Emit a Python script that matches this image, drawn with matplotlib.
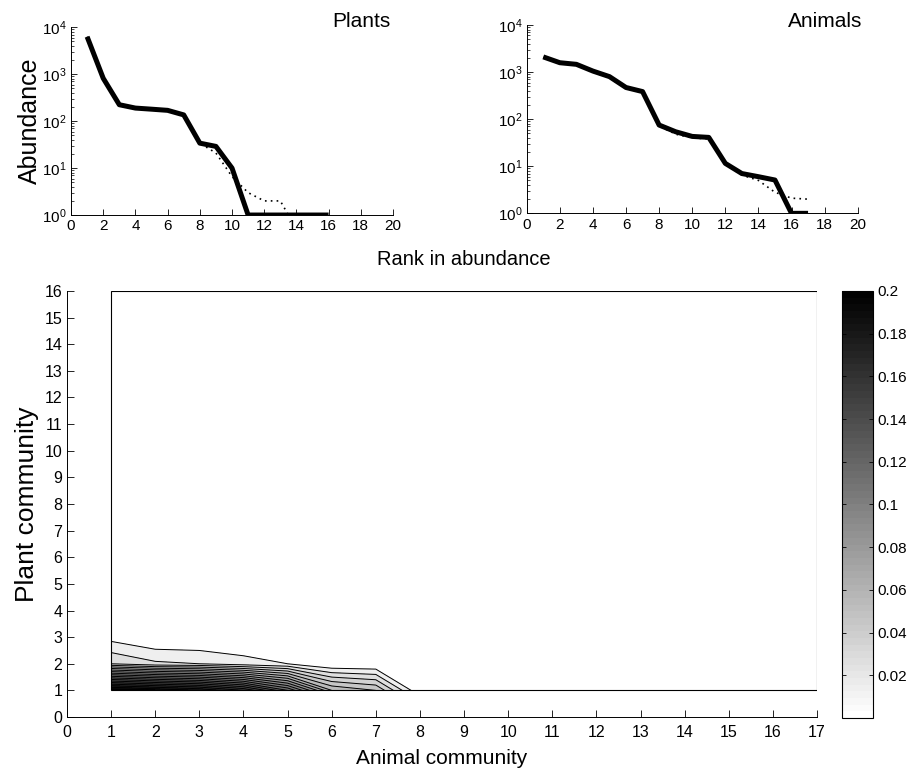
import numpy as np
import matplotlib
matplotlib.use("Agg")
import matplotlib.pyplot as plt
from matplotlib.patches import Rectangle
from matplotlib.colors import Normalize
from matplotlib.ticker import LogLocator, NullFormatter

plt.rcParams['font.family'] = ['Liberation Sans', 'DejaVu Sans']
plt.rcParams['mathtext.fontset'] = 'custom'
plt.rcParams['mathtext.rm'] = 'Liberation Sans'
plt.rcParams['mathtext.default'] = 'regular'

# rank-abundance data
plant_rank = list(range(1, 17))
plant_abund = [6300, 820, 224, 190, 180, 170, 136, 34, 29, 10, 1, 1, 1, 1, 1, 1]
plant_fit_rank = list(range(1, 15))
plant_fit = [6300, 820, 224, 190, 180, 170, 136, 34, 21, 6.6, 3, 2, 2, 0.5]

animal_rank = list(range(1, 18))
animal_abund = [2100, 1580, 1460, 1050, 800, 470, 385, 75, 54, 43, 41, 11.5, 7, 6, 5.1, 1, 1]
animal_fit_rank = list(range(1, 18))
animal_fit = [2050, 1550, 1420, 1000, 760, 440, 370, 72, 48, 40, 38, 11, 6.5, 5, 2.8, 2.1, 2.0]

# joint probability surface: rows = plant community 1..16, cols = animal community 1..17
animal_comm = np.arange(1, 18)
plant_comm = np.arange(1, 17)
row_plant1 = [0.2, 0.19, 0.18, 0.16, 0.12, 0.06, 0.05, 0, 0, 0, 0, 0, 0, 0, 0, 0, 0]
row_plant2 = [0.03, 0.022, 0.02, 0.0143, 0.01, 0, 0, 0, 0, 0, 0, 0, 0, 0, 0, 0, 0]
row_plant3 = [0.0062, 0, 0, 0, 0, 0, 0, 0, 0, 0, 0, 0, 0, 0, 0, 0, 0]
levels = np.arange(0.01, 0.2001, 0.01)
cbar_ticks = [0.02, 0.04, 0.06, 0.08, 0.1, 0.12, 0.14, 0.16, 0.18, 0.2]

fig = plt.figure(figsize=(9.14, 7.71), dpi=100)

def rank_panel(rect, rank, abund, fit_rank, fit, name, xmax_txt):
    ax = fig.add_axes(rect)
    ax.plot(fit_rank, fit, color='k', lw=1.2, ls=(0, (1, 2.5)))   # model fit, dotted
    ax.plot(rank, abund, color='k', lw=3.6, solid_capstyle='butt')
    ax.set_yscale('log')
    ax.set_xlim(0, 20)
    ax.set_ylim(1, 1e4)
    ax.set_xticks(range(0, 21, 2))
    ax.set_yticks([1, 10, 100, 1000, 10000])
    ax.set_yticklabels(['$10^{0}$', '$10^{1}$', '$10^{2}$', '$10^{3}$', '$10^{4}$'])
    ax.yaxis.set_minor_locator(LogLocator(base=10, subs=np.arange(2, 10)))
    ax.yaxis.set_minor_formatter(NullFormatter())
    ax.tick_params(direction='in', labelsize=11, length=4, width=0.6, pad=3)
    ax.tick_params(which='minor', direction='in', length=2, width=0.5)
    ax.spines['top'].set_visible(False)
    ax.spines['right'].set_visible(False)
    for s in ['left', 'bottom']:
        ax.spines[s].set_linewidth(0.7)
    fig.text(xmax_txt, 0.972, name, ha='right', va='center', fontsize=15)
    return ax

ax1 = rank_panel([0.0777, 0.7211, 0.3523, 0.2435], plant_rank, plant_abund,
                 plant_fit_rank, plant_fit, 'Plants', 0.427)
ax1.set_ylabel('Abundance', fontsize=18, labelpad=0)
ax2 = rank_panel([0.5763, 0.7233, 0.3621, 0.2443], animal_rank, animal_abund,
                 animal_fit_rank, animal_fit, 'Animals', 0.943)
fig.text(0.508, 0.664, 'Rank in abundance', ha='center', va='center', fontsize=14.5)

# main contour panel
ax = fig.add_axes([0.0733, 0.07, 0.8206, 0.5526])
Z = np.zeros((len(plant_comm), len(animal_comm)))
Z[0] = row_plant1
Z[1] = row_plant2
Z[2] = row_plant3
cmap = plt.get_cmap('gray_r', 64)
norm = Normalize(0, 0.2)
ax.contourf(animal_comm, plant_comm, Z, levels=levels, cmap=cmap, norm=norm)
ax.contour(animal_comm, plant_comm, Z, levels=levels, colors='k', linewidths=0.7)
ax.add_patch(Rectangle((1, 1), 16, 15, fill=False, ec='k', lw=0.8, zorder=5))
ax.set_xlim(0, 17)
ax.set_ylim(0, 16)
ax.set_xticks(range(0, 18))
ax.set_yticks(range(0, 17))
ax.tick_params(direction='in', labelsize=11.5, length=5, width=0.6)
ax.tick_params(axis='x', pad=6)
ax.spines['top'].set_visible(False)
ax.spines['right'].set_visible(False)
for s in ['left', 'bottom']:
    ax.spines[s].set_linewidth(0.7)
ax.set_xlabel('Animal community', fontsize=15, labelpad=6)
ax.set_ylabel('Plant community', fontsize=19, labelpad=4)

cax = fig.add_axes([0.9212, 0.0687, 0.0339, 0.554])
sm = matplotlib.cm.ScalarMappable(norm=norm, cmap=cmap)
cb = fig.colorbar(sm, cax=cax, ticks=cbar_ticks)
cb.ax.set_yticklabels([f'{t:g}' for t in cbar_ticks])
cb.outline.set_linewidth(0.8)
cax.tick_params(direction='in', left=True, right=True, labelright=True, labelleft=False,
                labelsize=11, length=3, width=0.6)

fig.savefig('out.png', dpi=100)
